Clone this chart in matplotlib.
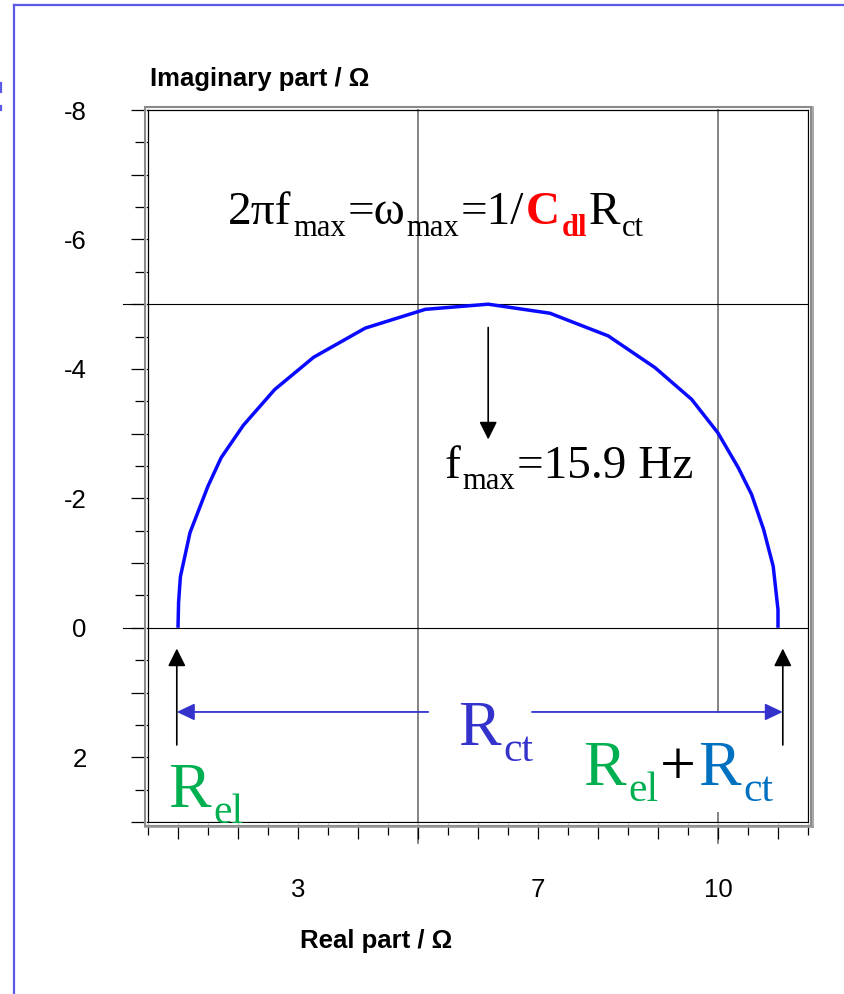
import matplotlib
matplotlib.use("Agg")
import matplotlib.pyplot as plt
import numpy as np
from matplotlib.lines import Line2D
from matplotlib.patches import Rectangle
from matplotlib.transforms import IdentityTransform

plt.rcParams["font.family"] = ["Liberation Sans", "DejaVu Sans"]

W, H, DPI = 845, 994, 100
SERIF = ["Liberation Serif", "DejaVu Serif"]

# Nyquist data of the Randles cell (real part, imaginary part in ohm)
Z_RE = [1.00, 1.01, 1.04, 1.20, 1.50, 1.72, 2.09, 2.61, 3.26, 4.12, 5.12, 6.17,
        7.20, 8.17, 8.95, 9.56, 10.00, 10.34, 10.56, 10.76, 10.92, 11.00, 11.00]
Z_IM = [0.00, -0.40, -0.79, -1.47, -2.19, -2.63, -3.13, -3.68, -4.18, -4.63, -4.92, -5.00,
        -4.86, -4.51, -4.02, -3.53, -3.01, -2.47, -2.06, -1.52, -0.95, -0.28, 0.00]

F_MAX_HZ = 15.9
ARROW_X = [0.98, 11.08]          # R_el and R_el + R_ct markers
RCT_GAP = [5.17, 6.90]           # break in the R_ct dimension line
RCT_Y = 1.30

X_LIM = (0.5, 11.5)
Y_LIM = (3.0, -8.0)              # -Z'' grows upward
X_LABELED = [3, 7, 10]
Y_LABELED = [-8, -6, -4, -2, 0, 2]
GRID_X = [5, 10]
GRID_Y = [-5, 0]

BLUE_CURVE = "#0a0aff"
RCT_BLUE = "#3333cc"
GREEN = "#00b050"
CT_BLUE = "#0070c0"

fig = plt.figure(figsize=(W / DPI, H / DPI), dpi=DPI)
fig.patch.set_facecolor("white")
ax = fig.add_axes([148 / W, 1 - 822 / H, (808 - 148) / W, (822 - 110) / H])
ax.set_xlim(*X_LIM)
ax.set_ylim(*Y_LIM)

# ticks: long at integers, short at half units
major_x = np.arange(1, 12)
ax.set_xticks(major_x)
ax.set_xticklabels([str(v) if v in X_LABELED else "" for v in major_x])
ax.set_xticks(np.arange(0.5, 12, 1.0), minor=True)
major_y = np.arange(-8, 4)
ax.set_yticks(major_y)
ax.set_yticklabels([str(v) if v in Y_LABELED else "" for v in major_y])
ax.set_yticks(np.arange(-7.5, 3, 1.0), minor=True)
ax.tick_params(which="major", direction="out", length=12.2, width=0.9, color="black",
               labelsize=18.5)
ax.tick_params(which="minor", direction="out", length=9.4, width=0.9, color="black")
ax.tick_params(axis="x", which="major", pad=28)
ax.tick_params(axis="y", which="major", pad=32)
for sp in ax.spines.values():
    sp.set_color("black")
    sp.set_linewidth(0.9)

# grid lines every 5 ohm, running out past the frame
for gx in GRID_X:
    ax.axvline(gx, ymin=-0.03, ymax=1, color="#707070", lw=1.2, clip_on=False, zorder=1)
for gy in GRID_Y:
    ax.axhline(gy, xmin=-0.038, xmax=1, color="black", lw=0.8, clip_on=False, zorder=1)

# impedance spectrum
ax.plot(Z_RE, Z_IM, color=BLUE_CURVE, lw=2.5, zorder=4, solid_capstyle="butt")

# arrow from the apex of the semicircle
i_top = int(np.argmin(Z_IM))
head_blk = dict(arrowstyle="-|>,head_length=0.4,head_width=0.2", mutation_scale=27,
                lw=1.2, color="black", shrinkA=0, shrinkB=0)
ax.annotate("", xy=(Z_RE[i_top], -2.91), xytext=(Z_RE[i_top], Z_IM[i_top] + 0.36),
            arrowprops=head_blk, zorder=6)
for ax_x in ARROW_X:
    ax.annotate("", xy=(ax_x, 0.32), xytext=(ax_x, 1.81), arrowprops=head_blk, zorder=6)

head_blue = dict(arrowstyle="-|>,head_length=0.4,head_width=0.19", mutation_scale=27,
                 lw=1.3, color=RCT_BLUE, shrinkA=0, shrinkB=0)
ax.annotate("", xy=(ARROW_X[0], RCT_Y), xytext=(RCT_GAP[0], RCT_Y), arrowprops=head_blue, zorder=6)
ax.annotate("", xy=(ARROW_X[1], RCT_Y), xytext=(RCT_GAP[1], RCT_Y), arrowprops=head_blue, zorder=6)

# axis titles
ax.text(0.003, 1.034, "Imaginary part / Ω", transform=ax.transAxes, ha="left",
        va="baseline", fontsize=18.5, weight="bold")
ax.text(0.345, -0.177, "Real part / Ω", transform=ax.transAxes, ha="center",
        va="baseline", fontsize=18.5, weight="bold")

renderer = fig.canvas.get_renderer()


def rich_text(x, y, pieces, size, sub_scale=0.65, sub_drop=0.25, zorder=5):
    """Write a run of text pieces (text, color, weight, subscript) from data point (x, y)."""
    x0, y0 = ax.transData.transform((x, y))
    px_per_pt = DPI / 72.0
    cur = x0
    made = []
    for s, color, weight, is_sub in pieces:
        fs = size * sub_scale if is_sub else size
        dy = -size * sub_drop * px_per_pt if is_sub else 0.0
        t = fig.text(cur / W, (y0 + dy) / H, s, fontsize=fs, color=color, weight=weight,
                     family=SERIF, ha="left", va="baseline", zorder=zorder)
        bb = t.get_window_extent(renderer)
        cur += bb.width + 0.04 * fs * px_per_pt
        made.append(t)
    return made


rich_text(1.83, -6.24, [("2πf", "black", "normal", False),
                         ("max", "black", "normal", True),
                         ("=ω", "black", "normal", False),
                         ("max", "black", "normal", True),
                         ("=1/", "black", "normal", False),
                         ("C", "#ff0000", "bold", False),
                         ("dl", "#ff0000", "bold", True),
                         ("R", "black", "normal", False),
                         ("ct", "black", "normal", True)], size=34)

rich_text(5.45, -2.32, [("f", "black", "normal", False),
                         ("max", "black", "normal", True),
                         (f"={F_MAX_HZ:.1f} Hz", "black", "normal", False)], size=34)

rich_text(5.67, 1.81, [("R", RCT_BLUE, "normal", False),
                        ("ct", RCT_BLUE, "normal", True)], size=46)

rich_text(0.83, 2.77, [("R", GREEN, "normal", False),
                        ("el", GREEN, "normal", True)], size=46)

sum_parts = rich_text(7.75, 2.43, [("R", GREEN, "normal", False),
                                   ("el", GREEN, "normal", True),
                                   ("+", "black", "normal", False),
                                   ("R", CT_BLUE, "normal", False),
                                   ("ct", CT_BLUE, "normal", True)], size=46, zorder=5)
# white text box behind R_el + R_ct (inside the axes, under the arrows)
bbs = [t.get_window_extent(renderer) for t in sum_parts]
bx0 = min(b.x0 for b in bbs) - 5
bx1 = max(b.x1 for b in bbs) + 5
by0 = min(b.y0 for b in bbs) - 2
by1 = max(b.y1 for b in bbs) + 28
ax.add_patch(Rectangle((bx0, by0), bx1 - bx0, by1 - by0, transform=IdentityTransform(),
                       facecolor="white", edgecolor="none", zorder=2, clip_on=False))

# double frame around the plot area
axb = ax.get_window_extent(renderer)
fig.add_artist(Rectangle((axb.x0 - 1.8, axb.y0 - 1.8), axb.width + 3.6, axb.height + 3.6,
                         transform=IdentityTransform(), fill=False, ec="white", lw=1.1,
                         zorder=3))
fig.add_artist(Rectangle((axb.x0 - 3.5, axb.y0 - 3.5), axb.width + 7, axb.height + 7,
                         transform=IdentityTransform(), fill=False, ec="#8a8a8a", lw=1.5,
                         zorder=3))
fig.add_artist(Line2D([axb.x1 + 5, axb.x1 + 5], [axb.y0 - 5, axb.y1 + 3],
                      transform=IdentityTransform(), color="#9a9a9a", lw=1.2, zorder=3))
fig.add_artist(Line2D([axb.x0 - 3, axb.x1 + 5], [axb.y0 - 5, axb.y0 - 5],
                      transform=IdentityTransform(), color="#9a9a9a", lw=1.2, zorder=3))

# slide border
border = "#5a5ae6"
fig.add_artist(Line2D([14 / W, 14 / W], [0, 1 - 5 / H], transform=fig.transFigure,
                      color=border, lw=1.6))
fig.add_artist(Line2D([14 / W, 1], [1 - 5 / H, 1 - 5 / H], transform=fig.transFigure,
                      color=border, lw=1.6))
fig.add_artist(Line2D([1 / W, 1 / W], [1 - 83 / H, 1 - 92 / H], transform=fig.transFigure,
                      color=border, lw=1.6))
fig.add_artist(Line2D([1 / W, 1 / W], [1 - 106 / H, 1 - 110 / H], transform=fig.transFigure,
                      color=border, lw=1.6))

fig.savefig("out.png", dpi=DPI, facecolor="white")
